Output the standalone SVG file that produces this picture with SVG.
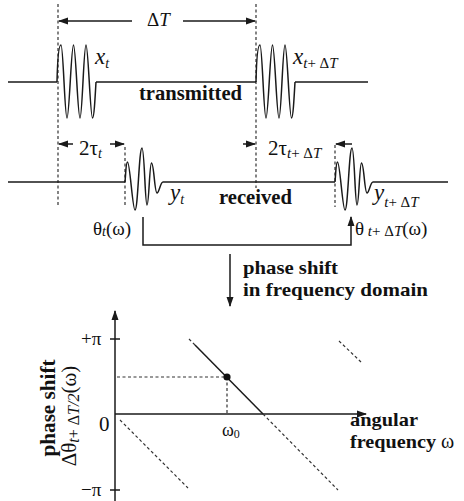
<svg xmlns="http://www.w3.org/2000/svg" width="464" height="501" viewBox="0 0 464 501">
<style>
.ln{fill:none;stroke:#1a1a1a;stroke-width:1.5}
.dash{fill:none;stroke:#333;stroke-width:1.2;stroke-dasharray:3 2.5}
.it{font-family:"Liberation Serif",serif;font-style:italic;fill:#111}
.rm{font-family:"Liberation Serif",serif;fill:#111}
.up{font-style:normal}
.bd{font-family:"Liberation Serif",serif;font-weight:bold;fill:#111}
</style>
<defs>
<marker id="ah" markerWidth="10" markerHeight="8" refX="9" refY="4" orient="auto" markerUnits="userSpaceOnUse"><path d="M0,0.5 L10,4 L0,7.5 Z" fill="#1a1a1a"/></marker>
<path id="tx" d="M57,82 C57.5,60 58.5,45 61,45 C63.3,45 64.7,118 67,118 C69.3,118 71.2,45 73.5,45 C75.8,45 77.7,118 80,118 C82.3,118 83.7,45 86,45 C88.3,45 90.2,118 92.5,118 C94,118 95,100 96,82"/>
<path id="rx" d="M125,182 C126,170 126,162 127.5,162 C130,162 132.5,210 135,210 C138,210 139,148 142,148 C144.5,148 145,205 147,205 C149,205 149.5,163 151.5,163 C154,163 154.5,193 157,193 C159,193 160.5,182 163,182"/>
</defs>

<g id="connectors">
  <path class="dash" d="M58,4 V206"/>
  <path class="dash" d="M256,4 V188"/>
  <path class="dash" d="M125,147 V206"/>
  <path class="dash" d="M335,145 V207"/>
  <path class="ln" d="M132,21 H59" marker-end="url(#ah)"/>
  <path class="ln" d="M183,21 H255" marker-end="url(#ah)"/>
  <path class="ln" d="M73,144 H59" marker-end="url(#ah)"/>
  <path class="ln" d="M110,144 H124" marker-end="url(#ah)"/>
  <path class="ln" d="M243,144 H255" marker-end="url(#ah)"/>
  <path class="ln" d="M352,144 H336" marker-end="url(#ah)"/>
  <path class="ln" d="M143,217 V245 H351 V217" marker-end="url(#ah)"/>
  <path class="ln" d="M230,254 V306" marker-end="url(#ah)"/>
</g>

<g id="transmitted">
  <path class="ln" d="M8,82 H57 M96,82 H256 M295,82 H368"/>
  <use href="#tx" class="ln"/>
  <use href="#tx" class="ln" transform="translate(199,0)"/>
  <text class="it" x="95" y="64" font-size="23">x<tspan font-size="14" dy="4">t</tspan></text>
  <text class="it" x="293" y="64" font-size="23">x<tspan font-size="15" dy="4">t<tspan class="up">+ Δ</tspan>T</tspan></text>
  <text class="bd" x="139" y="100" font-size="20" textLength="103" lengthAdjust="spacingAndGlyphs">transmitted</text>
  <text class="rm" x="147" y="26" font-size="19">Δ<tspan class="it">T</tspan></text>
</g>

<g id="received">
  <path class="ln" d="M8,182 H125 M163,182 H335 M373,182 H448"/>
  <use href="#rx" class="ln"/>
  <use href="#rx" class="ln" transform="translate(210,0)"/>
  <text class="it" x="170" y="200" font-size="23">y<tspan font-size="14" dy="4">t</tspan></text>
  <text class="it" x="374" y="200" font-size="23">y<tspan font-size="15" dy="7">t<tspan class="up">+ Δ</tspan>T</tspan></text>
  <text class="bd" x="219" y="204" font-size="20" textLength="73" lengthAdjust="spacingAndGlyphs">received</text>
  <text class="rm" x="79" y="155" font-size="21">2τ<tspan class="it" font-size="14" dy="3">t</tspan></text>
  <text class="rm" x="268" y="155" font-size="21">2τ<tspan class="it" font-size="15" dy="3">t<tspan class="up">+ Δ</tspan>T</tspan></text>
  <text class="rm" x="93" y="235" font-size="19">θ<tspan class="it" font-size="14" dy="1">t</tspan><tspan dy="-1">(ω)</tspan></text>
  <text class="rm" x="355" y="235" font-size="19">θ<tspan class="it" font-size="15" dy="1"> t<tspan class="up">+ Δ</tspan>T</tspan><tspan dy="-1">(ω)</tspan></text>
</g>

<g id="label-phase-shift">
  <text class="bd" x="243" y="274" font-size="19" textLength="95" lengthAdjust="spacingAndGlyphs">phase shift</text>
  <text class="bd" x="243" y="296" font-size="19" textLength="185" lengthAdjust="spacingAndGlyphs">in frequency domain</text>
</g>

<g id="graph">
  <path class="ln" d="M115,501 V311" marker-end="url(#ah)"/>
  <path class="ln" d="M115,414 H366" marker-end="url(#ah)"/>
  <path class="ln" d="M110,339 H120 M110,490 H120"/>
  <path class="dash" d="M117,377 H227 M227,377 V414"/>
  <path class="ln" d="M195,345 L263,414"/>
  <path class="dash" d="M189,339 L195,345 M263,414 L338,490 M120,420 L188,488 M339,341 L361,362"/>
  <circle cx="227" cy="377" r="3.6" fill="#111"/>
  <text class="rm" x="81" y="345" font-size="19">+π</text>
  <text class="rm" x="99" y="431" font-size="21">0</text>
  <text class="rm" x="81" y="496" font-size="19">−π</text>
  <text class="rm" x="222" y="436" font-size="18">ω<tspan font-size="12" dy="2">0</tspan></text>
  <text class="bd" x="350" y="426" font-size="19" textLength="68" lengthAdjust="spacingAndGlyphs">angular</text>
  <text class="bd" x="350" y="448" font-size="19" textLength="86" lengthAdjust="spacingAndGlyphs">frequency</text>
  <text class="rm" x="441" y="448" font-size="20">ω</text>
  <text class="bd" font-size="20" text-anchor="middle" transform="translate(55,408) rotate(-90)" textLength="97" lengthAdjust="spacingAndGlyphs">phase shift</text>
  <text class="rm" font-size="21" text-anchor="middle" transform="translate(76,416) rotate(-90)">Δθ<tspan class="it" font-size="16" dy="3">t<tspan class="up">+ Δ</tspan>T/2</tspan><tspan dy="-3">(ω)</tspan></text>
</g>
</svg>
